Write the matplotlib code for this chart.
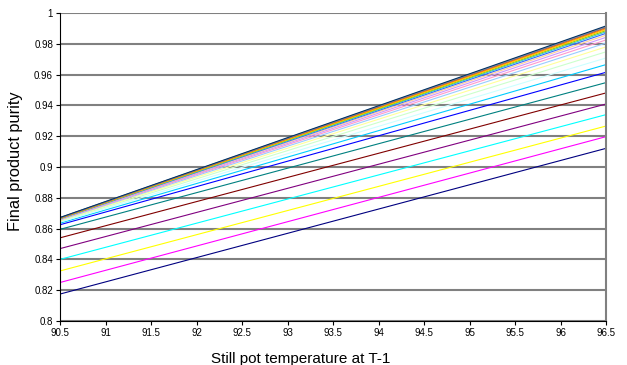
import matplotlib.pyplot as plt
import numpy as np

plt.rcParams['font.family'] = ['Liberation Sans', 'DejaVu Sans']

# temperature range (each series is a straight line between the two ends)
temps = [90.5, 96.5]

# purity at T=90.5 and at T=96.5, one entry per series (bottom to top)
purity_start = [0.8175, 0.8250, 0.8325, 0.8400, 0.8470, 0.8540, 0.8595, 0.8625,
                0.8635, 0.8642, 0.8648, 0.8652, 0.8656, 0.8659, 0.8661, 0.8663,
                0.8664, 0.8665, 0.8666, 0.8667, 0.8668, 0.8669, 0.8670, 0.8671,
                0.8672]
purity_end = [0.9121, 0.9197, 0.9266, 0.9340, 0.9409, 0.9481, 0.9548, 0.9615,
              0.9665, 0.9708, 0.9748, 0.9780, 0.9805, 0.9825, 0.9842, 0.9856,
              0.9868, 0.9878, 0.9886, 0.9893, 0.9899, 0.9904, 0.9908, 0.9912,
              0.9916]

colors = ['#000080', '#FF00FF', '#FFFF00', '#00FFFF', '#800080', '#800000',
          '#008080', '#0000FF', '#00CCFF', '#CCFFFF', '#CCFFCC', '#FFFF99',
          '#99CCFF', '#FF99CC', '#CC99FF', '#FFCC99', '#3366FF', '#33CCCC',
          '#99CC00', '#FFCC00', '#FF9900', '#FF6600', '#666699', '#969696',
          '#003366']

xticks = [90.5, 91, 91.5, 92, 92.5, 93, 93.5, 94, 94.5, 95, 95.5, 96, 96.5]
xtick_labels = ['90.5', '91', '91.5', '92', '92.5', '93', '93.5', '94',
                '94.5', '95', '95.5', '96', '96.5']
yticks = [0.8, 0.82, 0.84, 0.86, 0.88, 0.9, 0.92, 0.94, 0.96, 0.98, 1.0]
ytick_labels = ['0.8', '0.82', '0.84', '0.86', '0.88', '0.9', '0.92', '0.94',
                '0.96', '0.98', '1']

fig = plt.figure(figsize=(6.27, 3.65), dpi=100)
ax = fig.add_axes([60/627, 1-321/365, 546/627, 308/365])

for s, e, c in zip(purity_start, purity_end, colors):
    ax.plot(temps, [s, e], color=c, lw=0.8, solid_capstyle='butt')

ax.set_xlim(90.5, 96.5)
ax.set_ylim(0.8, 1.0)
ax.set_xticks(xticks)
ax.set_xticklabels(xtick_labels)
ax.set_yticks(yticks)
ax.set_yticklabels(ytick_labels)
ax.tick_params(labelsize=7, length=3, width=0.8, pad=2, direction='out')

ax.yaxis.grid(True, color='#808080', lw=1.5)
ax.set_axisbelow(True)
ax.spines['left'].set_color('black')
ax.spines['bottom'].set_color('black')
ax.spines['top'].set_visible(False)
ax.spines['right'].set_color('#808080')
ax.spines['right'].set_linewidth(1.5)

ax.set_xlabel('Still pot temperature at T-1', fontsize=11)
ax.set_ylabel('Final product purity', fontsize=11.8)
ax.xaxis.set_label_coords(0.44, -0.10)
ax.yaxis.set_label_coords(-0.068, 0.518)

fig.savefig('out.png', dpi=100)
